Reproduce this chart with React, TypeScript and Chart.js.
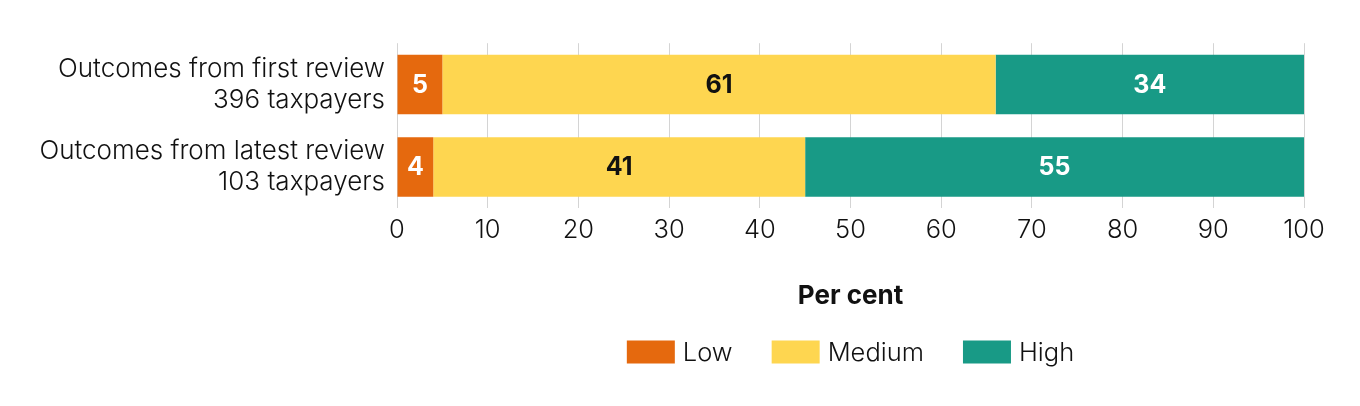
import React, { useEffect, useRef } from "react";
import { Chart, registerables } from "chart.js";

Chart.register(...registerables);

const categories: string[][] = [
  ["Outcomes from first review", "396 taxpayers"],
  ["Outcomes from latest review", "103 taxpayers"],
];
const lowValues = [5, 4];
const mediumValues = [61, 41];
const highValues = [34, 55];
const seriesNames = ["Low", "Medium", "High"];
const seriesColors = ["#e5690e", "#fed650", "#189a86"];
const valueLabelColors = ["#ffffff", "#111111", "#ffffff"];
const axisTitle = "Per cent";
const xMin = 0;
const xMax = 100;
const xStep = 10;

const FONT = "Inter, 'Noto Sans', sans-serif";
const FS = 25;

const barLabelPlugin = {
  id: "barLabels",
  afterDatasetsDraw(chart: any) {
    const ctx = chart.ctx;
    ctx.save();
    ctx.font = `bold 25px ${FONT}`;
    ctx.textAlign = "center";
    ctx.textBaseline = "middle";
    chart.data.datasets.forEach((ds: any, di: number) => {
      const meta = chart.getDatasetMeta(di);
      meta.data.forEach((el: any, i: number) => {
        const p = el.getProps(["x", "y", "base"], true);
        ctx.fillStyle = valueLabelColors[di];
        ctx.fillText(String(ds.data[i]), (p.x + p.base) / 2, p.y + 1);
      });
    });
    ctx.restore();
  },
};

const customLegendPlugin = {
  id: "customLegend",
  afterDraw(chart: any) {
    const ctx = chart.ctx;
    const area = chart.chartArea;
    ctx.save();
    ctx.font = `300 25.5px ${FONT}`;
    const boxW = 48;
    const boxH = 23;
    const boxGap = 8;
    const itemGap = 39;
    const widths = seriesNames.map((n) => boxW + boxGap + ctx.measureText(n).width);
    const total = widths.reduce((a, b) => a + b, 0) + itemGap * (seriesNames.length - 1);
    let x = (area.left + area.right) / 2 - total / 2;
    const cy = 352;
    seriesNames.forEach((n, i) => {
      ctx.fillStyle = seriesColors[i];
      ctx.fillRect(x, cy - boxH / 2, boxW, boxH);
      ctx.fillStyle = "#111111";
      ctx.textAlign = "left";
      ctx.textBaseline = "middle";
      ctx.fillText(n, x + boxW + boxGap, cy + 1);
      x += widths[i] + itemGap;
    });
    ctx.restore();
  },
};

export default function App() {
  const ref = useRef<HTMLCanvasElement | null>(null);
  useEffect(() => {
    document.body.style.margin = "0";
    if (!ref.current) return;
    const chart = new Chart(ref.current, {
      type: "bar",
      data: {
        labels: categories as any,
        datasets: [lowValues, mediumValues, highValues].map((d, i) => ({
          label: seriesNames[i],
          data: d,
          backgroundColor: seriesColors[i],
          borderWidth: 0,
        })),
      },
      options: {
        indexAxis: "y",
        animation: false,
        responsive: false,
        maintainAspectRatio: false,
        layout: { padding: { top: 42, right: 56, bottom: 94, left: 0 } },
        plugins: {
          legend: { display: false },
          tooltip: { enabled: false },
        },
        scales: {
          x: {
            stacked: true,
            min: xMin,
            max: xMax,
            ticks: {
              stepSize: xStep,
              padding: 7,
              color: "#111111",
              font: { family: FONT, size: 25.5, weight: "300" },
            },
            grid: { color: "#d4d4d4", drawTicks: false, lineWidth: 1 },
            border: { display: false },
            title: {
              display: true,
              text: axisTitle,
              color: "#111111",
              font: { family: FONT, size: 26, weight: "bold" },
              padding: { top: 28, bottom: 0 },
            },
          },
          y: {
            stacked: true,
            afterFit: (s: any) => {
              s.width = 397;
            },
            ticks: {
              padding: 12,
              color: "#111111",
              font: { family: FONT, size: 26, weight: "300", lineHeight: 1.2 },
            },
            grid: { display: false, drawTicks: false },
            border: { display: false },
          },
        },
      },
      plugins: [barLabelPlugin, customLegendPlugin],
    } as any);
    return () => chart.destroy();
  }, []);
  return (
    <div style={{ width: 1360, height: 406 }}>
      <canvas ref={ref} width={1360} height={406} style={{ display: "block" }} />
    </div>
  );
}
